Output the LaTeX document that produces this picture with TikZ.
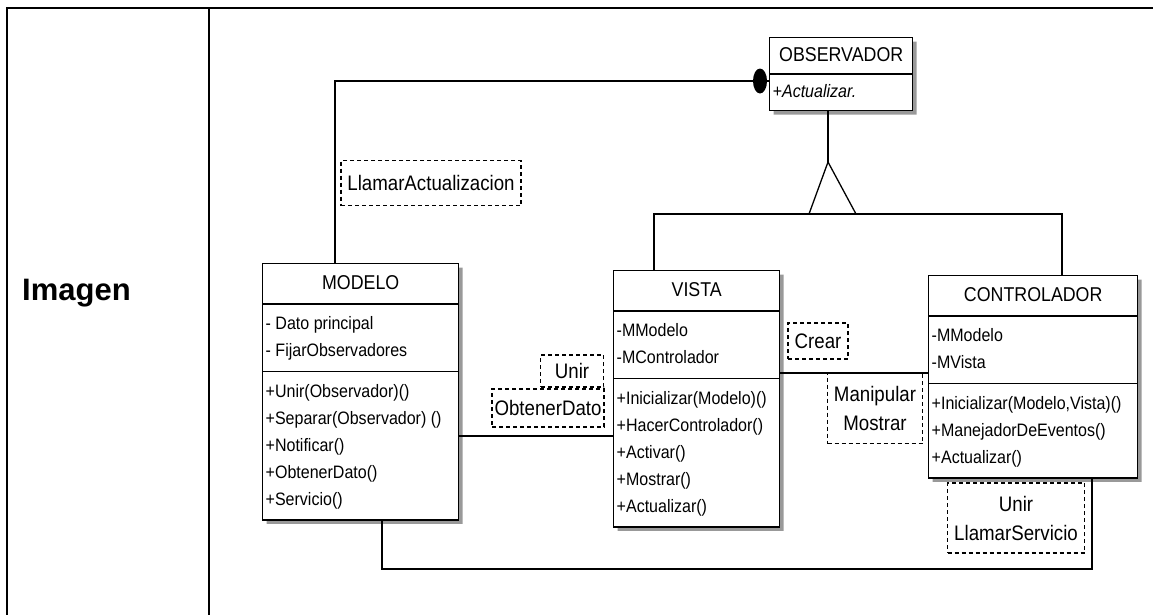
\documentclass[tikz,border=0pt]{standalone}
\usepackage{fontspec}
\setmainfont{Liberation Sans}
\newfontfamily\umlfont[FakeStretch=0.89]{Liberation Sans}
\usetikzlibrary{shapes.multipart, shapes.geometric, shadows}

% one compartment of a class box, one member per row
\newcommand{\members}[1]{\begin{tabular}{@{}l@{}}#1\end{tabular}}
\newcommand{\classname}[1]{{\fontsize{20}{27}\selectfont\strut #1}}

\begin{document}
\begin{tikzpicture}[
  x=1pt, y=-1pt,
  umlclass/.style={draw, fill=white, line width=1.4pt, rectangle split, rectangle split parts=3,
    rectangle split part align={center,left,left}, inner xsep=3pt, inner ysep=6pt,
    font=\umlfont\fontsize{18}{27}\selectfont, anchor=north west,
    drop shadow={shadow xshift=4pt, shadow yshift=-4pt, fill=black!40, opacity=1}},
  note/.style={draw, dash pattern=on 4pt off 3pt, line width=1.3pt, align=center, inner sep=2pt,
    font=\umlfont\fontsize{21}{29}\selectfont},
  assoc/.style={line width=1.3pt},
  frame/.style={line width=2.6pt},
]
  \useasboundingbox (0,0) rectangle (1153,614);

  % table cell round the picture
  \draw[frame] (7,640) -- (7,8) -- (1160,8);
  \draw[frame] (209,8) -- (209,640);
  \node[anchor=base west, font=\bfseries\fontsize{31}{32}\selectfont, inner sep=0pt] (imagen) at (22,300) {Imagen};

  % classes
  \node[umlclass, rectangle split parts=2, inner ysep=4pt, minimum width=143pt] (obs) at (769,37)
    {\classname{OBSERVADOR} \nodepart{second}\strut\textit{+Actualizar.}};
  \node[umlclass, minimum width=196pt] (modelo) at (262,263)
    {\classname{MODELO}
     \nodepart{second}\members{- Dato principal\\- FijarObservadores}
     \nodepart{third}\members{+Unir(Observador)()\\+Separar(Observador) ()\\+Notificar()\\+ObtenerDato()\\+Servicio()}};
  \node[umlclass, minimum width=166pt] (vista) at (613,270)
    {\classname{VISTA}
     \nodepart{second}\members{-MModelo\\-MControlador}
     \nodepart{third}\members{+Inicializar(Modelo)()\\+HacerControlador()\\+Activar()\\+Mostrar()\\+Actualizar()}};
  \node[umlclass, minimum width=209pt] (ctrl) at (928,275)
    {\classname{CONTROLADOR}
     \nodepart{second}\members{-MModelo\\-MVista}
     \nodepart{third}\members{+Inicializar(Modelo,Vista)()\\+ManejadorDeEventos()\\+Actualizar()}};

  % bend points
  \coordinate (up) at (335,82);
  \coordinate (gen) at (828,162);
  \coordinate (genl) at (654,214);
  \coordinate (genr) at (1062,214);
  \coordinate (mv) at (535,436);
  \coordinate (vc) at (850,373);
  \coordinate (botl) at (382,569);
  \coordinate (botr) at (1092,569);

  % Modelo -> Observador
  \node[ellipse, fill=black, minimum width=14pt, minimum height=25pt, inner sep=0pt] (agg) at (760,81) {};
  \draw[assoc] (modelo.north -| up) |- (agg.west);
  \draw[assoc] (agg) -- (obs.west |- agg);

  % generalisation
  \draw[assoc] (obs.south -| gen) -- (gen);
  \draw[assoc] (gen) -- ++(-19,52) (gen) -- ++(28,52);
  \draw[assoc] (vista.north -| genl) -- (genl) -- (genr) -- (ctrl.north -| genr);

  % associations between the classes
  \draw[assoc] (mv -| modelo.east) -- (mv -| vista.west);
  \draw[assoc] (vc -| vista.east) -- (vc -| ctrl.west);
  \draw[assoc] (modelo.south -| botl) -- (botl) -- (botr) -- (ctrl.south -| botr);

  % messages
  \node[note, minimum width=180pt, minimum height=45pt] (llamar) at (431,183) {LlamarActualizacion};
  \node[note, minimum width=63pt, minimum height=32pt] (unir) at (572,371) {Unir};
  \node[note, minimum width=112pt, minimum height=38pt] (obtener) at (548,408) {ObtenerDato};
  \node[note, minimum width=60pt, minimum height=36pt] (crear) at (818,341) {Crear};
  \node[note, minimum width=95pt, minimum height=71pt] (manip) at (875,408) {Manipular\\Mostrar};
  \node[note, minimum width=137pt, minimum height=70pt] (servicio) at (1016,518) {Unir\\LlamarServicio};
\end{tikzpicture}
\end{document}
